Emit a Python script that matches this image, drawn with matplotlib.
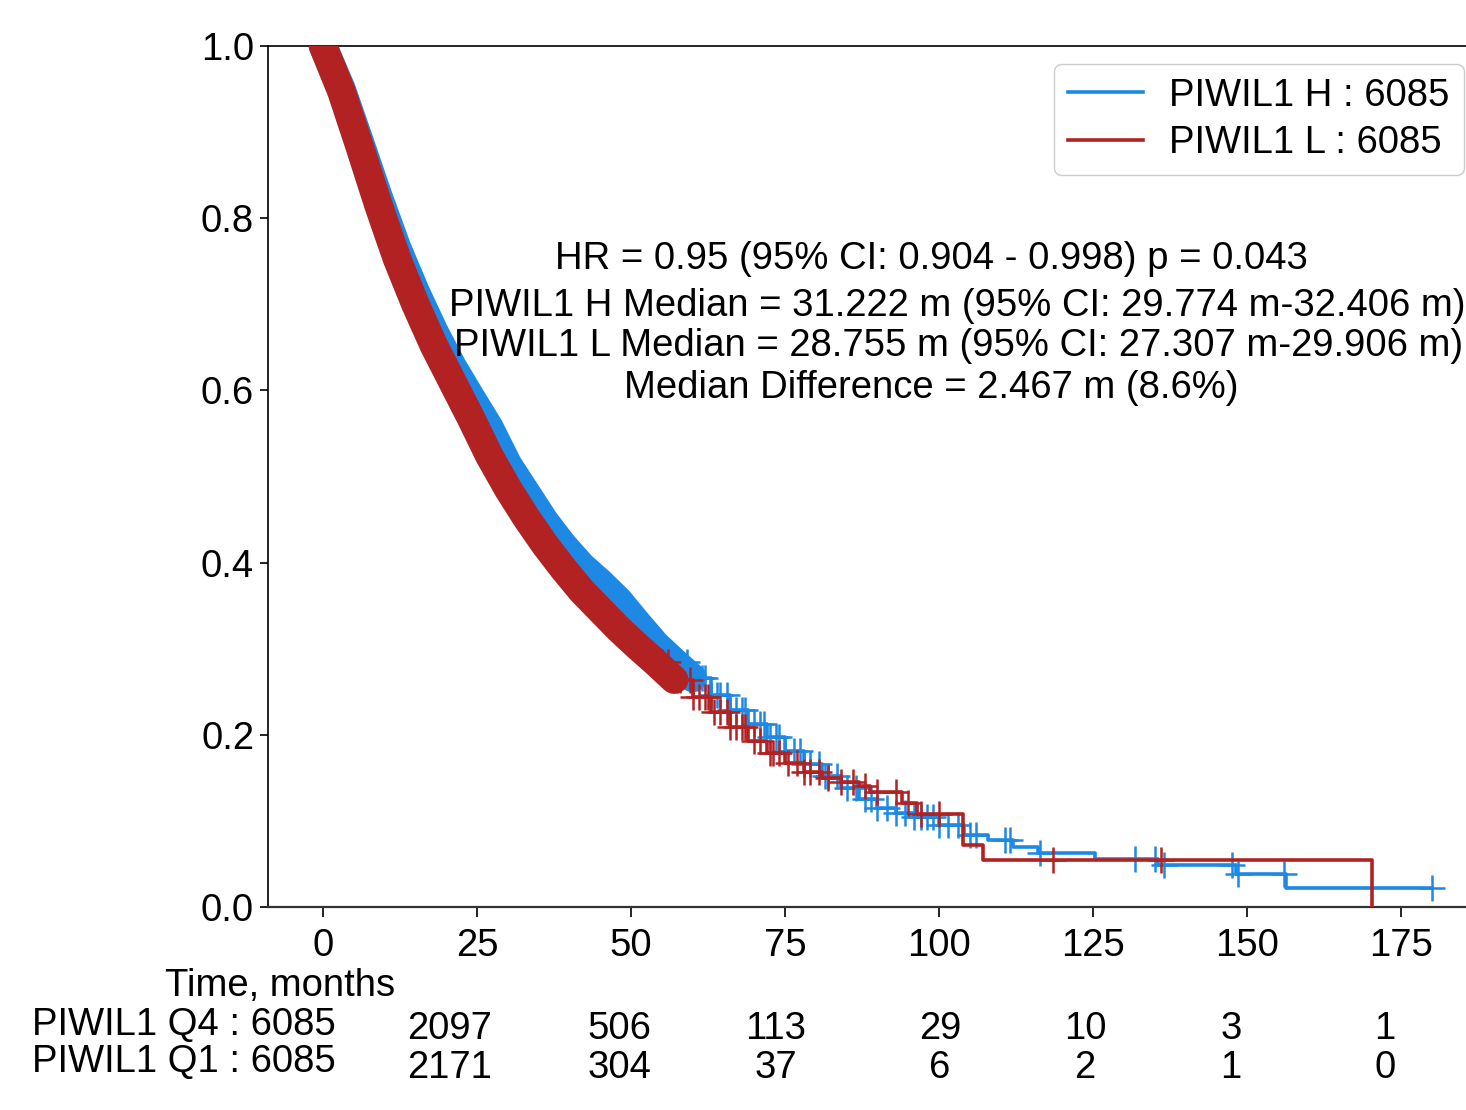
import numpy as np
import matplotlib
matplotlib.use("Agg")
import matplotlib.pyplot as plt
from matplotlib.lines import Line2D
from matplotlib.transforms import blended_transform_factory, offset_copy

plt.rcParams['font.family'] = ['Liberation Sans', 'DejaVu Sans']

# Kaplan-Meier curves (months, survival)
h_time = [0, 3, 6, 9, 12, 15, 18, 21, 24, 27, 30, 33, 36, 39, 42, 45, 48, 51, 54,
          57, 60, 63, 66, 69, 72, 75, 78, 81, 84, 87, 90, 93, 96, 100, 104, 108,
          112, 116, 125.3, 135.5, 148.2, 156.3, 180]
h_surv = [1.000, 0.950, 0.888, 0.825, 0.766, 0.715, 0.669, 0.628, 0.592, 0.557,
          0.514, 0.481, 0.448, 0.420, 0.396, 0.377, 0.356, 0.330, 0.305, 0.285,
          0.266, 0.246, 0.229, 0.212, 0.197, 0.181, 0.166, 0.152, 0.138, 0.125,
          0.115, 0.109, 0.104, 0.095, 0.084, 0.078, 0.070, 0.063, 0.056, 0.049,
          0.038, 0.022, 0.022]

l_time = [0, 3, 6, 9, 12, 15, 18, 21, 24, 27, 30, 33, 36, 39, 42, 45, 48, 51, 54,
          57, 60, 63, 66, 69, 72, 75, 78, 81, 84, 87, 88.8, 93.9, 96.4, 103.9,
          107.2, 170.3]
l_surv = [1.000, 0.947, 0.882, 0.815, 0.753, 0.700, 0.652, 0.610, 0.568, 0.524,
          0.486, 0.452, 0.421, 0.393, 0.367, 0.345, 0.323, 0.303, 0.284, 0.264,
          0.244, 0.226, 0.209, 0.193, 0.179, 0.167, 0.157, 0.150, 0.145, 0.140,
          0.134, 0.121, 0.108, 0.072, 0.055, 0.0]

# censored observations in the sparse part of the curves
h_censor = [58, 59, 60.5, 61.5, 62, 63, 64, 64.5, 65.5, 66, 67, 68, 68.5, 70, 71,
            71.5, 72.5, 73.5, 74, 75, 76.5, 77.5, 78, 79, 80.5, 81.5, 82, 83.5,
            85, 86.5, 88, 89, 90, 91.5, 93, 94.5, 96, 97, 98, 99, 100, 101.5,
            103, 105, 106, 110.7, 111.5, 116.4, 131.8, 135, 136.5, 147.5, 148.5,
            156, 180]
l_censor = [55, 56, 57.5, 58, 59.5, 60, 61, 62, 62.5, 63.5, 64.5, 65.5, 66, 67,
            68, 68.5, 70, 71, 72.5, 73, 74, 75.5, 77, 78, 79, 80.5, 82, 84, 86,
            88, 90, 93, 95, 97, 100, 118.5, 136]

legend_labels = ["PIWIL1 H : 6085", "PIWIL1 L : 6085"]
stats_lines = [
    "HR = 0.95 (95% CI: 0.904 - 0.998) p = 0.043",
    "PIWIL1 H Median = 31.222 m (95% CI: 29.774 m-32.406 m)",
    "PIWIL1 L Median = 28.755 m (95% CI: 27.307 m-29.906 m)",
    "Median Difference = 2.467 m (8.6%)",
]
risk_times = [25, 50, 75, 100, 125, 150, 175]
risk_q4 = [2097, 506, 113, 29, 10, 3, 1]
risk_q1 = [2171, 304, 37, 6, 2, 1, 0]
risk_labels = ["PIWIL1 Q4 : 6085", "PIWIL1 Q1 : 6085"]

BLUE = "#1E88E5"
RED = "#B22222"
FS = 27.5
W, H = 1466, 1110


def step_value(times, surv, at):
    idx = np.searchsorted(times, at, side="right") - 1
    return np.asarray(surv)[idx]


fig = plt.figure(figsize=(W / 100, H / 100), dpi=100)
ax = fig.add_axes([268 / W, 1 - 907 / H, (1472 - 268) / W, (907 - 46) / H])

curves = [
    (h_time, h_surv, h_censor, BLUE, 60, 2),
    (l_time, l_surv, l_censor, RED, 57, 3),
]
for t, s, cens, col, dense_end, z in curves:
    t = np.asarray(t)
    s = np.asarray(s)
    dense = t <= dense_end
    tail = t >= dense_end
    # thousands of tiny steps and censor marks early on read as a solid band
    ax.plot(t[dense], s[dense], color=col, lw=20.5, solid_capstyle="round",
            solid_joinstyle="round", zorder=z)
    ax.plot(t[dense], s[dense], ls="none", marker="+", ms=19, mew=1.6,
            color=col, zorder=z)
    ax.plot(t[tail], s[tail], drawstyle="steps-post", color=col, lw=2.6, zorder=z)
    ax.plot(cens, step_value(t, s, cens), ls="none", marker="+", ms=19,
            mew=1.8, color=col, zorder=z + 0.1)

ax.set_xlim(-8.93, 186.5)
ax.set_ylim(0, 1.0)
ax.set_xticks([0, 25, 50, 75, 100, 125, 150, 175])
ax.set_yticks([0.0, 0.2, 0.4, 0.6, 0.8, 1.0])
ax.set_yticklabels(["%.1f" % v for v in ax.get_yticks()])
ax.tick_params(axis="both", labelsize=FS, direction="out", width=1.2)
ax.tick_params(axis="x", length=7, pad=8)
ax.tick_params(axis="y", length=6, pad=4)
for side in ["left", "top"]:
    ax.spines[side].set_linewidth(1.2)
ax.spines["bottom"].set_linewidth(1.6)
ax.spines["bottom"].set_color("#333333")
ax.spines["right"].set_visible(False)

handles = [Line2D([], [], color=BLUE, lw=2.6), Line2D([], [], color=RED, lw=2.6)]
ax.legend(handles, legend_labels, loc="upper right", bbox_to_anchor=(0.993, 0.979),
          borderaxespad=0, fontsize=FS, handlelength=1.95, handletextpad=0.7,
          labelspacing=0.3, borderpad=0.36, edgecolor="#cccccc", framealpha=1)

# stats block, each line placed where it sits in the picture
stats_pos = [(931, 259), (957, 306), (959, 346), (931, 388)]
for (px, py), line in zip(stats_pos, stats_lines):
    ax.text((px - 268) / (1472 - 268), (907 - py) / 861, line, transform=ax.transAxes,
            ha="center", va="center", fontsize=FS, zorder=5)

# number-at-risk table
fig.text(280 / W, 1 - 986 / H, "Time, months", ha="center", va="center", fontsize=FS)
fig.text(32 / W, 1 - 1025 / H, risk_labels[0], ha="left", va="center", fontsize=FS)
fig.text(32 / W, 1 - 1062 / H, risk_labels[1], ha="left", va="center", fontsize=FS)
col_shift = [-27, -12, -9, 1, -8, -16, -16]
blend = blended_transform_factory(ax.transData, fig.transFigure)
for tm, dx, a, b in zip(risk_times, col_shift, risk_q4, risk_q1):
    tr = offset_copy(blend, fig=fig, x=dx, units="dots")
    fig.text(tm, 1 - 1029 / H, str(a), transform=tr, ha="center", va="center", fontsize=FS)
    fig.text(tm, 1 - 1068 / H, str(b), transform=tr, ha="center", va="center", fontsize=FS)

fig.savefig("out.png", dpi=100)
